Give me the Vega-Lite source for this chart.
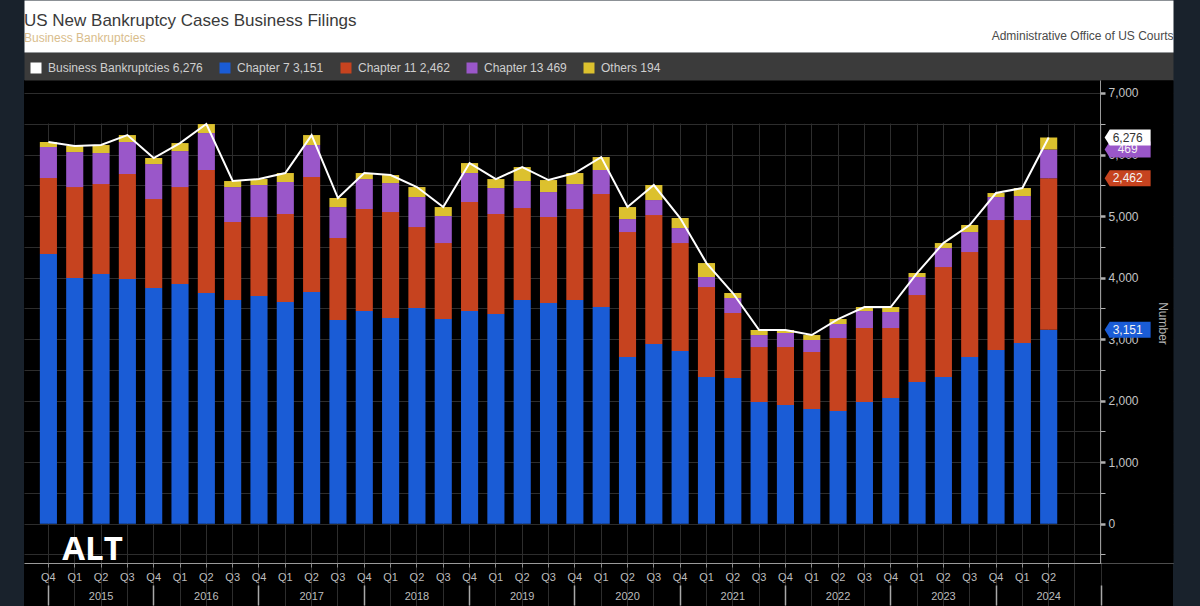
{
  "$schema": "https://vega.github.io/schema/vega-lite/v6.json",
  "description": "US new bankruptcy cases, business filings by chapter, quarterly Q4 2014 - Q2 2024",
  "width": 1149,
  "height": 526,
  "autosize": {"type": "none"},
  "padding": {"left": 24, "top": 80, "right": 27, "bottom": 0},
  "background": "#19222c",
  "config": {
    "view": {"fill": "#000000", "stroke": null},
    "font": "Liberation Sans",
    "axis": {"labelFont": "Liberation Sans", "titleFont": "Liberation Sans"},
    "legend": {"labelFont": "Liberation Sans"}
  },
  "title": {
    "text": "US New Bankruptcy Cases Business Filings",
    "subtitle": "Business Bankruptcies",
    "anchor": "start",
    "frame": "group",
    "offset": -19,
    "fontSize": 17,
    "fontWeight": "normal",
    "color": "#3a3a3a",
    "subtitleColor": "#d9bd8c",
    "subtitleFontSize": 12,
    "subtitlePadding": 3
  },
  "data": {
    "values": [
      {"period": "2014 Q4", "Chapter 7": 4383, "Chapter 11": 1235, "Chapter 13": 504, "Others": 82},
      {"period": "2015 Q1", "Chapter 7": 3993, "Chapter 11": 1478, "Chapter 13": 569, "Others": 98},
      {"period": "2015 Q2", "Chapter 7": 4058, "Chapter 11": 1462, "Chapter 13": 504, "Others": 130},
      {"period": "2015 Q3", "Chapter 7": 3976, "Chapter 11": 1707, "Chapter 13": 520, "Others": 113},
      {"period": "2015 Q4", "Chapter 7": 3830, "Chapter 11": 1446, "Chapter 13": 569, "Others": 98},
      {"period": "2016 Q1", "Chapter 7": 3895, "Chapter 11": 1576, "Chapter 13": 585, "Others": 130},
      {"period": "2016 Q2", "Chapter 7": 3749, "Chapter 11": 1999, "Chapter 13": 601, "Others": 146},
      {"period": "2016 Q3", "Chapter 7": 3635, "Chapter 11": 1268, "Chapter 13": 568, "Others": 98},
      {"period": "2016 Q4", "Chapter 7": 3700, "Chapter 11": 1284, "Chapter 13": 520, "Others": 97},
      {"period": "2017 Q1", "Chapter 7": 3603, "Chapter 11": 1430, "Chapter 13": 520, "Others": 146},
      {"period": "2017 Q2", "Chapter 7": 3765, "Chapter 11": 1869, "Chapter 13": 520, "Others": 162},
      {"period": "2017 Q3", "Chapter 7": 3310, "Chapter 11": 1333, "Chapter 13": 503, "Others": 147},
      {"period": "2017 Q4", "Chapter 7": 3456, "Chapter 11": 1658, "Chapter 13": 487, "Others": 98},
      {"period": "2018 Q1", "Chapter 7": 3343, "Chapter 11": 1722, "Chapter 13": 471, "Others": 130},
      {"period": "2018 Q2", "Chapter 7": 3505, "Chapter 11": 1316, "Chapter 13": 488, "Others": 162},
      {"period": "2018 Q3", "Chapter 7": 3326, "Chapter 11": 1235, "Chapter 13": 439, "Others": 146},
      {"period": "2018 Q4", "Chapter 7": 3456, "Chapter 11": 1772, "Chapter 13": 471, "Others": 162},
      {"period": "2019 Q1", "Chapter 7": 3408, "Chapter 11": 1625, "Chapter 13": 422, "Others": 146},
      {"period": "2019 Q2", "Chapter 7": 3635, "Chapter 11": 1495, "Chapter 13": 439, "Others": 227},
      {"period": "2019 Q3", "Chapter 7": 3586, "Chapter 11": 1398, "Chapter 13": 406, "Others": 195},
      {"period": "2019 Q4", "Chapter 7": 3635, "Chapter 11": 1479, "Chapter 13": 406, "Others": 179},
      {"period": "2020 Q1", "Chapter 7": 3521, "Chapter 11": 1837, "Chapter 13": 390, "Others": 211},
      {"period": "2020 Q2", "Chapter 7": 2709, "Chapter 11": 2031, "Chapter 13": 211, "Others": 195},
      {"period": "2020 Q3", "Chapter 7": 2920, "Chapter 11": 2096, "Chapter 13": 244, "Others": 244},
      {"period": "2020 Q4", "Chapter 7": 2806, "Chapter 11": 1755, "Chapter 13": 244, "Others": 163},
      {"period": "2021 Q1", "Chapter 7": 2384, "Chapter 11": 1462, "Chapter 13": 163, "Others": 227},
      {"period": "2021 Q2", "Chapter 7": 2368, "Chapter 11": 1056, "Chapter 13": 244, "Others": 81},
      {"period": "2021 Q3", "Chapter 7": 1978, "Chapter 11": 893, "Chapter 13": 195, "Others": 82},
      {"period": "2021 Q4", "Chapter 7": 1929, "Chapter 11": 942, "Chapter 13": 228, "Others": 49},
      {"period": "2022 Q1", "Chapter 7": 1864, "Chapter 11": 926, "Chapter 13": 195, "Others": 81},
      {"period": "2022 Q2", "Chapter 7": 1831, "Chapter 11": 1187, "Chapter 13": 227, "Others": 81},
      {"period": "2022 Q3", "Chapter 7": 1978, "Chapter 11": 1202, "Chapter 13": 276, "Others": 65},
      {"period": "2022 Q4", "Chapter 7": 2043, "Chapter 11": 1137, "Chapter 13": 260, "Others": 81},
      {"period": "2023 Q1", "Chapter 7": 2303, "Chapter 11": 1413, "Chapter 13": 293, "Others": 65},
      {"period": "2023 Q2", "Chapter 7": 2384, "Chapter 11": 1787, "Chapter 13": 309, "Others": 81},
      {"period": "2023 Q3", "Chapter 7": 2709, "Chapter 11": 1706, "Chapter 13": 325, "Others": 114},
      {"period": "2023 Q4", "Chapter 7": 2823, "Chapter 11": 2112, "Chapter 13": 374, "Others": 65},
      {"period": "2024 Q1", "Chapter 7": 2936, "Chapter 11": 1999, "Chapter 13": 390, "Others": 130},
      {"period": "2024 Q2", "Chapter 7": 3151, "Chapter 11": 2462, "Chapter 13": 469, "Others": 194}
    ]
  },
  "transform": [
    {"fold": ["Chapter 7", "Chapter 11", "Chapter 13", "Others"], "as": ["series", "value"]},
    {"calculate": "indexof(['Chapter 7', 'Chapter 11', 'Chapter 13', 'Others'], datum.series)", "as": "ord"}
  ],
  "layer": [
    {
      "mark": {"type": "bar"},
      "encoding": {
        "x": {
          "field": "period",
          "type": "ordinal",
          "scale": {
            "domain": ["2014 Q4",
              "2015 Q1", "2015 Q2", "2015 Q3", "2015 Q4",
              "2016 Q1", "2016 Q2", "2016 Q3", "2016 Q4",
              "2017 Q1", "2017 Q2", "2017 Q3", "2017 Q4",
              "2018 Q1", "2018 Q2", "2018 Q3", "2018 Q4",
              "2019 Q1", "2019 Q2", "2019 Q3", "2019 Q4",
              "2020 Q1", "2020 Q2", "2020 Q3", "2020 Q4",
              "2021 Q1", "2021 Q2", "2021 Q3", "2021 Q4",
              "2022 Q1", "2022 Q2", "2022 Q3", "2022 Q4",
              "2023 Q1", "2023 Q2", "2023 Q3", "2023 Q4",
              "2024 Q1", "2024 Q2", "2024 Q3", "2024 Q4", "tag"],
            "paddingInner": 0.35,
            "paddingOuter": 1.075,
            "align": 0.301
          },
          "axis": {
            "orient": "bottom",
            "offset": -43,
            "bandPosition": 0.5,
            "domain": false,
            "grid": true,
            "gridColor": "#2d2d2d",
            "gridOpacity": {"condition": {"test": "datum.value == 'tag'", "value": 0}, "value": 1},
            "ticks": true,
            "tickSize": 4,
            "tickColor": "#8a8a8a",
            "tickOpacity": {"condition": {"test": "datum.value == 'tag' || datum.value == '2024 Q3' || datum.value == '2024 Q4'", "value": 0}, "value": 1},
            "labelExpr": "datum.value == 'tag' || datum.value == '2024 Q3' || datum.value == '2024 Q4' ? '' : slice(datum.value, 5)",
            "labelAngle": 0,
            "labelFontSize": 11,
            "labelColor": "#bdbdbd",
            "labelPadding": 4,
            "labelOverlap": false,
            "title": "ALT",
            "titleX": 68,
            "titleY": -14,
            "titleAlign": "center",
            "titleBaseline": "middle",
            "titleFontSize": 33,
            "titleFontWeight": "bold",
            "titleColor": "#ffffff",
            "titleFont": "Open Sans"
          }
        },
        "y": {
          "field": "value",
          "type": "quantitative",
          "stack": "zero",
          "scale": {"domain": [-639, 7211], "range": [483, 0], "nice": false, "zero": false},
          "axis": {
            "orient": "right",
            "offset": -36,
            "domainColor": "#000000",
            "domainWidth": 72,
            "ticks": false,
            "labels": false,
            "grid": false,
            "title": null
          }
        },
        "color": {
          "field": "series",
          "type": "nominal",
          "scale": {
            "domain": ["Business Bankruptcies", "Chapter 7", "Chapter 11", "Chapter 13", "Others"],
            "range": ["#ffffff", "#1a5cd6", "#c6431f", "#9a57c9", "#dcc12e"]
          },
          "legend": {
            "orient": "none",
            "legendX": 6,
            "legendY": -18,
            "direction": "horizontal",
            "title": null,
            "symbolType": "square",
            "symbolSize": 121,
            "symbolStrokeWidth": 0,
            "symbolOpacity": 1,
            "labelFontSize": 12,
            "labelColor": "#cfcfcf",
            "labelOffset": 6,
            "labelLimit": 300,
            "columnPadding": 16,
            "labelExpr": "datum.label == 'Business Bankruptcies' ? 'Business Bankruptcies 6,276' : datum.label == 'Chapter 7' ? 'Chapter 7 3,151' : datum.label == 'Chapter 11' ? 'Chapter 11 2,462' : datum.label == 'Chapter 13' ? 'Chapter 13 469' : 'Others 194'"
          }
        },
        "order": {"field": "ord", "type": "quantitative"}
      }
    },
    {
      "mark": {"type": "line", "strokeWidth": 2},
      "encoding": {
        "x": {
          "field": "period",
          "type": "ordinal",
          "axis": {
            "orient": "bottom",
            "offset": -21,
            "bandPosition": 0.5,
            "domain": false,
            "grid": false,
            "tickSize": 20,
            "tickWidth": 1.5,
            "tickColor": "#a8a8a8",
            "tickOpacity": {"condition": {"test": "slice(datum.value, 5) == 'Q4'", "value": 1}, "value": 0},
            "labelExpr": "slice(datum.value, 5) == 'Q2' ? slice(datum.value, 0, 4) : ''",
            "labelAngle": 0,
            "labelFontSize": 11,
            "labelColor": "#bdbdbd",
            "labelPadding": -15,
            "labelOverlap": false,
            "title": null
          }
        },
        "y": {
          "aggregate": "sum",
          "field": "value",
          "type": "quantitative",
          "axis": {
            "orient": "right",
            "offset": -73,
            "values": [-639, -500, 0, 500, 1000, 1500, 2000, 2500, 3000, 3500, 4000, 4500, 5000, 5500, 6000, 6500, 7000],
            "domain": true,
            "domainColor": "#9a9a9a",
            "domainWidth": 1,
            "grid": true,
            "gridColor": {"condition": {"test": "datum.value < -600", "value": "#9a9a9a"}, "value": "#2d2d2d"},
            "ticks": true,
            "tickSize": 5,
            "tickColor": "#b0b0b0",
            "tickWidth": {"condition": {"test": "datum.value % 1000 == 0", "value": 2.5}, "value": 1},
            "tickOpacity": {"condition": {"test": "datum.value < -600", "value": 0}, "value": 1},
            "labelExpr": "datum.value >= 0 && datum.value % 1000 == 0 ? format(datum.value, ',') : ''",
            "labelFontSize": 12,
            "labelColor": "#c4c4c4",
            "labelPadding": 3,
            "labelOverlap": false,
            "title": "Number",
            "titleX": 62,
            "titleY": 243,
            "titleAngle": 90,
            "titleAlign": "center",
            "titleBaseline": "middle",
            "titleFontSize": 12,
            "titleFontWeight": "normal",
            "titleColor": "#b5b5b5"
          }
        },
        "color": {"datum": "Business Bankruptcies"}
      }
    },
    {
      "transform": [
        {"filter": "datum.period == '2024 Q2' && datum.series != 'Others'"},
        {"stack": "value", "groupby": ["period"], "sort": [{"field": "ord"}], "as": ["v0", "v1"]}
      ],
      "mark": {"type": "point", "shape": "M-1,0L-0.78,-0.35L1,-0.35L1,0.35L-0.78,0.35Z", "size": 2116, "filled": true, "opacity": 1},
      "encoding": {
        "x": {
          "datum": "tag",
          "type": "ordinal",
          "axis": {
            "orient": "top",
            "offset": 14,
            "domainColor": "#3b3b3b",
            "domainWidth": 28,
            "ticks": false,
            "labels": false,
            "grid": false,
            "title": null
          }
        },
        "y": {"field": "v1", "type": "quantitative", "axis": null},
        "color": {"field": "series", "type": "nominal"}
      }
    },
    {
      "transform": [
        {"filter": "datum.period == '2024 Q2' && datum.series != 'Others'"},
        {"stack": "value", "groupby": ["period"], "sort": [{"field": "ord"}], "as": ["v0", "v1"]}
      ],
      "mark": {"type": "text", "fontSize": 12, "color": "#f4f4f4"},
      "encoding": {
        "x": {
          "datum": "tag",
          "type": "ordinal",
          "axis": {
            "orient": "top",
            "offset": 54,
            "domainColor": "#ffffff",
            "domainWidth": 52,
            "ticks": false,
            "labels": false,
            "grid": false,
            "title": "Administrative Office of US Courts",
            "titleX": 1149,
            "titleY": 9,
            "titleAlign": "right",
            "titleBaseline": "middle",
            "titleFontSize": 12,
            "titleFontWeight": "normal",
            "titleColor": "#4a4a4a"
          }
        },
        "y": {"field": "v1", "type": "quantitative", "axis": null},
        "text": {"field": "value", "type": "quantitative", "format": ","}
      }
    },
    {
      "transform": [
        {"filter": "datum.period == '2024 Q2'"},
        {"aggregate": [{"op": "sum", "field": "value", "as": "total"}], "groupby": ["period"]}
      ],
      "mark": {"type": "point", "shape": "M-1,0L-0.78,-0.35L1,-0.35L1,0.35L-0.78,0.35Z", "size": 2116, "filled": true, "opacity": 1, "color": "#ffffff"},
      "encoding": {
        "x": {"datum": "tag", "type": "ordinal", "axis": null},
        "y": {"field": "total", "type": "quantitative", "axis": null}
      }
    },
    {
      "transform": [
        {"filter": "datum.period == '2024 Q2'"},
        {"aggregate": [{"op": "sum", "field": "value", "as": "total"}], "groupby": ["period"]}
      ],
      "mark": {"type": "text", "fontSize": 12, "color": "#333333"},
      "encoding": {
        "x": {"datum": "tag", "type": "ordinal", "axis": null},
        "y": {"field": "total", "type": "quantitative", "axis": null},
        "text": {"field": "total", "type": "quantitative", "format": ","}
      }
    }
  ],
  "resolve": {"axis": {"x": "independent", "y": "independent"}}
}
